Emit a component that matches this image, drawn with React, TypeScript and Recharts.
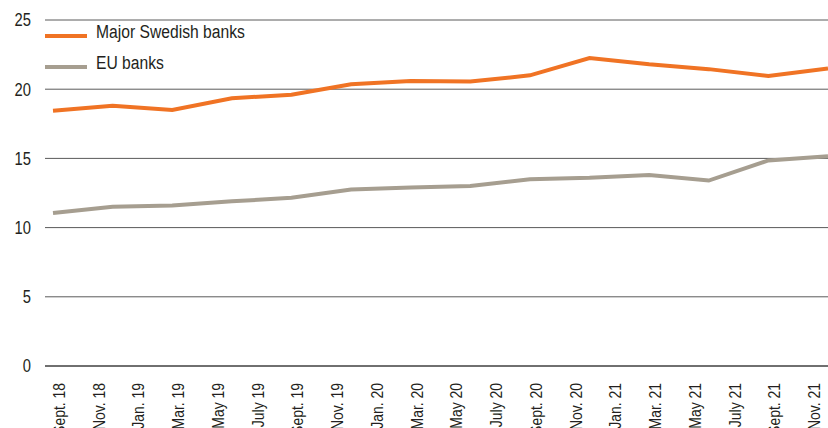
import React from "react";
import { LineChart, Line, XAxis, YAxis, CartesianGrid, Legend } from "recharts";

// months since Sept. 18, quarterly observations
const months = [0, 3, 6, 9, 12, 15, 18, 21, 24, 27, 30, 33, 36, 39];
const swedishBanks = [18.45, 18.8, 18.5, 19.35, 19.6, 20.35, 20.6, 20.55, 21.0, 22.25, 21.8, 21.45, 20.95, 21.5];
const euBanks = [11.05, 11.5, 11.6, 11.9, 12.15, 12.75, 12.9, 13.0, 13.5, 13.6, 13.8, 13.4, 14.85, 15.15];

const tickMonths = [0, 2, 4, 6, 8, 10, 12, 14, 16, 18, 20, 22, 24, 26, 28, 30, 32, 34, 36, 38];
const tickLabels = [
  "Sept. 18", "Nov. 18", "Jan. 19", "Mar. 19", "May 19", "July 19", "Sept. 19", "Nov. 19", "Jan. 20", "Mar. 20",
  "May 20", "July 20", "Sept. 20", "Nov. 20", "Jan. 21", "Mar. 21", "May 21", "July 21", "Sept. 21", "Nov. 21",
];
const yTicks = [0, 5, 10, 15, 20, 25];

const ORANGE = "#f07324";
const GREY = "#a69e90";
const TEXT = "#231f20";
const FONT = "'Liberation Sans', Arial, sans-serif";
const SQUEEZE = 0.82; // no narrow font installed, squeeze Liberation Sans instead

const data = months.map((m, i) => ({ m, swe: swedishBanks[i], eu: euBanks[i] }));

const XTick = (props: any) => {
  const { x, y, payload } = props;
  const idx = tickMonths.indexOf(payload.value);
  return (
    <g transform={`translate(${x + 12},${y + 9}) rotate(-90) scale(${SQUEEZE},1)`}>
      <text textAnchor="end" fontSize={17} fill={TEXT} fontFamily={FONT}>
        {tickLabels[idx]}
      </text>
    </g>
  );
};

const YTick = (props: any) => {
  const { x, y, payload } = props;
  return (
    <g transform={`translate(${x},${y}) scale(${SQUEEZE},1)`}>
      <text textAnchor="end" dy="0.36em" fontSize={18} fill={TEXT} fontFamily={FONT}>
        {payload.value}
      </text>
    </g>
  );
};

const LegendBox = () => (
  <div style={{ fontFamily: FONT, fontSize: 18, color: TEXT }}>
    {[
      { name: "Major Swedish banks", color: ORANGE },
      { name: "EU banks", color: GREY },
    ].map((it) => (
      <div key={it.name} style={{ display: "flex", alignItems: "center", height: 31 }}>
        <svg width={51} height={8} style={{ flex: "none" }}>
          <line x1={0} y1={4} x2={42} y2={4} stroke={it.color} strokeWidth={4} />
        </svg>
        <span
          style={{
            marginTop: -6,
            whiteSpace: "nowrap",
            display: "inline-block",
            transform: "scaleX(0.87)",
            transformOrigin: "left center",
          }}
        >
          {it.name}
        </span>
      </div>
    ))}
  </div>
);

export default function App() {
  document.body.style.margin = "0";
  return (
    <div style={{ width: 828, height: 428, background: "#fff" }}>
      <LineChart width={828} height={428} data={data} margin={{ top: 20, right: 0, bottom: 0, left: 0 }}>
        <CartesianGrid vertical={false} stroke="#5a5a5a" strokeWidth={1} />
        <XAxis
          dataKey="m"
          type="number"
          domain={[0, 39]}
          ticks={tickMonths}
          interval={0}
          tick={<XTick />}
          tickLine={false}
          axisLine={{ stroke: "#333" }}
          padding={{ left: 8, right: 0 }}
          height={62}
        />
        <YAxis
          domain={[0, 25]}
          ticks={yTicks}
          width={45}
          tickLine={false}
          axisLine={false}
          tickMargin={8}
          tick={<YTick />}
        />
        <Legend
          layout="vertical"
          align="center"
          verticalAlign="middle"
          wrapperStyle={{ top: 20, left: 45, width: "auto" }}
          content={<LegendBox />}
        />
        <Line type="linear" dataKey="swe" name="Major Swedish banks" stroke={ORANGE} strokeWidth={4} dot={false} isAnimationActive={false} />
        <Line type="linear" dataKey="eu" name="EU banks" stroke={GREY} strokeWidth={4} dot={false} isAnimationActive={false} />
      </LineChart>
    </div>
  );
}
